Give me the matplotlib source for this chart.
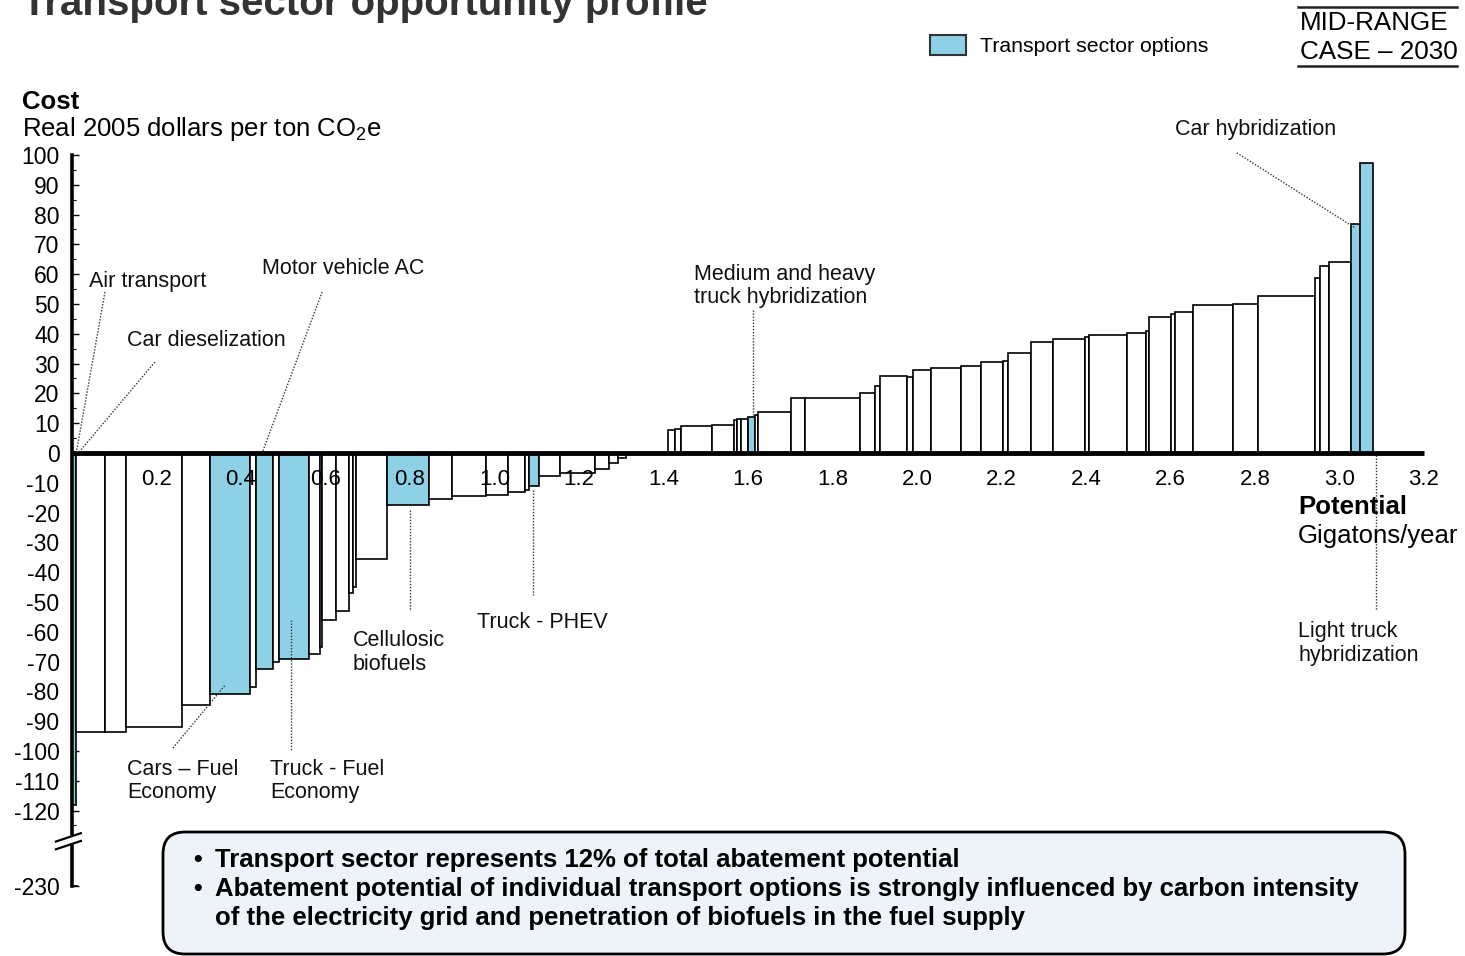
import numpy as np
import matplotlib
matplotlib.use('Agg')
import matplotlib.pyplot as plt
from matplotlib.patches import FancyBboxPatch, Rectangle
from matplotlib.lines import Line2D
from matplotlib.transforms import IdentityTransform

plt.rcParams['font.family'] = ['Liberation Sans', 'DejaVu Sans']
plt.rcParams['mathtext.fontset'] = 'custom'
plt.rcParams['mathtext.rm'] = 'Liberation Sans'
plt.rcParams['mathtext.it'] = 'Liberation Sans:italic'

# abatement options sorted by cost: width = potential (Gt/yr), height = cost ($/t CO2e)
widths = [0.010, 0.067, 0.050, 0.133, 0.066, 0.095, 0.015, 0.040, 0.015, 0.071,
          0.024, 0.006, 0.032, 0.031, 0.009, 0.009, 0.073, 0.099, 0.054, 0.080,
          0.054, 0.040, 0.009, 0.024, 0.050, 0.083, 0.033, 0.021, 0.019, 0.099,
          0.017, 0.014, 0.073, 0.052, 0.007, 0.009, 0.017, 0.016, 0.007, 0.078,
          0.033, 0.130, 0.036, 0.012, 0.064, 0.014, 0.043, 0.071, 0.047, 0.052,
          0.012, 0.054, 0.052, 0.076, 0.009, 0.090, 0.045, 0.009, 0.052, 0.009,
          0.043, 0.095, 0.059, 0.133, 0.014, 0.019, 0.054, 0.021, 0.031]
costs = [-230, -93.5, -93.5, -92, -84.5, -81, -78.5, -72.5, -70, -69,
         -67.5, -65, -56, -53, -47, -45, -35.5, -17.5, -15.5, -14.5,
         -14, -13, -12.5, -11, -7.8, -6.6, -5.5, -3.5, -1.8, -0.5,
         7.7, 8.2, 9.1, 9.3, 11.1, 11.4, 11.5, 12.2, 12.8, 13.6,
         18.4, 18.6, 20, 22.5, 25.7, 25.4, 27.9, 28.4, 29.2, 30.6,
         31, 33.4, 37.4, 38.2, 38.8, 39.6, 40.2, 40.8, 45.5, 46.6,
         47.2, 49.7, 49.9, 52.7, 58.8, 62.9, 64.2, 76.8, 97.2]
transport = [1, 0, 0, 0, 0, 1, 0, 1, 0, 1,
             0, 0, 0, 0, 0, 0, 0, 1, 0, 0,
             0, 0, 0, 1, 0, 0, 0, 0, 0, 0,
             0, 0, 0, 0, 0, 0, 0, 1, 0, 0,
             0, 0, 0, 0, 0, 0, 0, 0, 0, 0,
             0, 0, 0, 0, 0, 0, 0, 0, 0, 0,
             0, 0, 0, 0, 0, 0, 0, 1, 1]
# air transport (first bar) is off scale, drawn only down to the axis break
air_floor = -118

yticks = list(range(-120, 101, 10))
xticks = [0.2, 0.4, 0.6, 0.8, 1.0, 1.2, 1.4, 1.6, 1.8, 2.0, 2.2, 2.4, 2.6, 2.8, 3.0, 3.2]
y_230 = -145.3   # where the -230 label sits below the break

blue = '#8ED1E6'
W, H = 1465, 956
fig = plt.figure(figsize=(W / 100, H / 100), dpi=100)
ax = fig.add_axes([72 / W, 65 / H, 1358 / W, 736 / H])
ax.set_xlim(0, 1358 / 422.5)
ax.set_ylim(-147, 100)
for s in ax.spines.values():
    s.set_visible(False)

widths = np.array(widths)
lefts = np.concatenate([[0], np.cumsum(widths)[:-1]])
heights = np.maximum(np.array(costs, dtype=float), air_floor)
colors = [blue if t else 'white' for t in transport]
ax.bar(lefts, heights, width=widths, align='edge', color=colors,
       edgecolor='black', linewidth=1.2, zorder=2)

# axes
ax.plot([0, 3.2], [0, 0], color='black', lw=3.5, zorder=4, solid_capstyle='butt')
ax.plot([0, 0], [100, -127.8], color='black', lw=2.6, zorder=5, clip_on=False)
ax.plot([0, 0], [-131.5, y_230], color='black', lw=2.6, zorder=5, clip_on=False)
ax.plot([0, 0.012], [y_230, y_230], color='black', lw=1.2, zorder=5, clip_on=False)
ax.plot([-0.038, 0.021], [-130.4, -127.6], color='black', lw=1.6, clip_on=False)
ax.plot([-0.038, 0.021], [-133.0, -130.2], color='black', lw=1.6, clip_on=False)

ax.set_yticks(yticks + [y_230])
ax.set_yticklabels([str(v) for v in yticks] + ['-230'])
ax.set_yticks(np.arange(-125, 100, 10), minor=True)
ax.tick_params(axis='y', direction='in', length=5, width=1, labelsize=16.5, pad=9)
ax.tick_params(axis='y', which='minor', direction='in', length=3, width=0.8)
ax.set_xticks([])
for v in xticks:
    ax.text(v, -8.8, f'{v:.1f}', ha='center', va='center', fontsize=16, zorder=6)

# annotations
lab = dict(fontsize=15.5, color='#111111', zorder=6)
dot = dict(color='#333333', lw=1, ls=(0, (1, 1.2)), zorder=6, clip_on=False)

ax.text(0.040, 57.5, 'Air transport', ha='left', va='center', **lab)
ax.plot([0.078, 0.010], [54, 0], **dot)
ax.text(0.130, 37.6, 'Car dieselization', ha='left', va='center', **lab)
ax.plot([0.196, 0.015], [30.5, 0], **dot)
ax.text(0.450, 62, 'Motor vehicle AC', ha='left', va='center', **lab)
ax.plot([0.592, 0.450], [54, 0], **dot)
ax.text(1.472, 56, 'Medium and heavy\ntruck hybridization', ha='left', va='center',
        linespacing=1.15, **lab)
ax.plot([1.612, 1.612], [48, 12.8], **dot)
ax.text(2.611, 108.7, 'Car hybridization', ha='left', va='center', clip_on=False, **lab)
ax.plot([2.757, 3.037], [100.7, 75.5], **dot)
ax.text(0.665, -67, 'Cellulosic\nbiofuels', ha='left', va='center', linespacing=1.15, **lab)
ax.plot([0.800, 0.800], [-19, -53], **dot)
ax.text(0.959, -57, 'Truck - PHEV', ha='left', va='center', **lab)
ax.plot([1.091, 1.091], [-12.4, -47.7], **dot)
ax.text(0.130, -110, 'Cars – Fuel\nEconomy', ha='left', va='center', linespacing=1.15, **lab)
ax.plot([0.239, 0.362], [-99, -78], **dot)
ax.text(0.469, -110, 'Truck - Fuel\nEconomy', ha='left', va='center', linespacing=1.15, **lab)
ax.plot([0.518, 0.518], [-56, -99.7], **dot)
ax.text(2.902, -64, 'Light truck\nhybridization', ha='left', va='center', linespacing=1.15, **lab)
ax.plot([3.086, 3.086], [-0.7, -52.7], **dot)
ax.text(2.902, -18, 'Potential', ha='left', va='center', fontsize=18.5, fontweight='bold', zorder=6)
ax.text(2.902, -28, 'Gigatons/year', ha='left', va='center', fontsize=18.5, zorder=6)

# header texts
fig.text(22 / W, 1 - 15 / H, 'Transport sector opportunity profile', ha='left',
         va='baseline', fontsize=29, fontweight='bold', color='#333333')
fig.text(22 / W, 1 - 102 / H, 'Cost', ha='left', va='center', fontsize=18.5, fontweight='bold')
fig.text(22 / W, 1 - 129 / H, 'Real 2005 dollars per ton CO$_2$e', ha='left', va='center', fontsize=18.5)

# legend
fig.add_artist(Rectangle((930, H - 55), 36, 20, transform=IdentityTransform(),
                         facecolor=blue, edgecolor='#333333', lw=1.5))
fig.text(980 / W, 1 - 47 / H, 'Transport sector options', ha='left', va='center', fontsize=15.3)

# case box
fig.text(1300 / W, 1 - 23 / H, 'MID-RANGE', ha='left', va='center', fontsize=18.7)
fig.text(1300 / W, 1 - 52 / H, 'CASE – 2030', ha='left', va='center', fontsize=18.7)
fig.add_artist(Line2D([1298 / W, 1457 / W], [1 - 7 / H, 1 - 7 / H], color='#222222', lw=1.8))
fig.add_artist(Line2D([1298 / W, 1457 / W], [1 - 66 / H, 1 - 66 / H], color='#222222', lw=1.8))

# key-message box
fig.add_artist(FancyBboxPatch((163, 2), 1242, H - 832 - 2,
                              boxstyle='round,pad=0,rounding_size=22',
                              transform=IdentityTransform(),
                              facecolor='#EEF3FA', edgecolor='black', lw=2))
bullets = ['Transport sector represents 12% of total abatement potential',
           'Abatement potential of individual transport options is strongly influenced by carbon intensity',
           'of the electricity grid and penetration of biofuels in the fuel supply']
ys = [860, 889, 918]
for i, (t, y) in enumerate(zip(bullets, ys)):
    if i < 2:
        fig.text(193 / W, 1 - y / H, '•', ha='left', va='center', fontsize=18, fontweight='bold')
    fig.text(215 / W, 1 - y / H, t, ha='left', va='center', fontsize=18.5, fontweight='bold')

fig.savefig('out.png', dpi=100)
